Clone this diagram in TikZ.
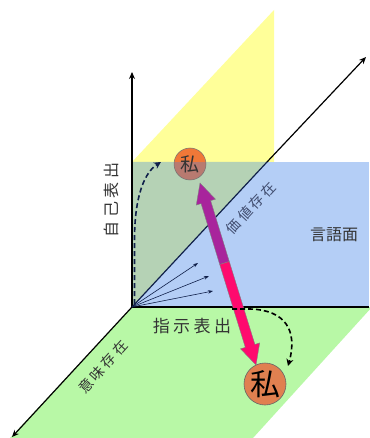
\documentclass[tikz,border=0pt]{standalone}
\usepackage{fontspec}
\newfontfamily\jp{Noto Sans CJK JP}
\usetikzlibrary{arrows.meta}
\definecolor{yel}{HTML}{FFFF99}
\definecolor{blu}{HTML}{B4CEF6}
\definecolor{ovl}{HTML}{B5D2B5}
\definecolor{grn}{HTML}{B8F8A6}
\definecolor{navy}{HTML}{10204A}
\definecolor{mag}{HTML}{A8249C}
\definecolor{pnk}{HTML}{FF0A6E}
\definecolor{org}{HTML}{F07838}
\definecolor{mauve}{HTML}{B87A70}
\definecolor{org2}{HTML}{E08050}
\definecolor{txt}{HTML}{333333}
\tikzset{
  axis/.style={line width=1.2pt, -{Stealth[length=7pt,width=6pt]}},
  fan/.style={navy, line width=0.6pt, -{Stealth[length=5pt,width=3.5pt]}},
  lbl/.style={font=\jp\fontsize{16}{16}\selectfont, text=txt, inner sep=0pt},
  rlbl/.style={font=\jp\fontsize{14}{14}\selectfont, text=txt, inner sep=0pt},
  curv/.style={dashed, dash pattern=on 5pt off 3pt, line width=1.6pt, -{Stealth[length=7pt,width=7pt]}},
}
\newcommand{\gp}{\hspace{3.5pt}}
\newcommand{\gq}{\hspace{3pt}}
\begin{document}
\begin{tikzpicture}[x=1pt,y=-1pt]
\useasboundingbox (0,0) rectangle (369,438);
% green plane
\fill[grn] (132,307) -- (372,307) -- (253,438) -- (10,438) -- cycle;
% blue plane
\fill[blu] (132,162) rectangle (369,307);
% yellow plane
\fill[yel] (132,162) -- (274,10) -- (274,162) -- cycle;
% overlap
\fill[ovl] (132,162) -- (267,162) -- (132,307) -- cycle;
% coordinates
\coordinate (O) at (132,307);
\coordinate (Vtop) at (132,72);
\coordinate (Dmid) at (267,162);
\coordinate (Dtop) at (366,57);
\coordinate (Lbot) at (12,437);
\coordinate (Rb) at (369,307);
% blue bottom edge
\draw[line width=1.2pt] (O) -- (Rb);
% axes
\draw[axis] (O) -- (Vtop);
\draw[axis] (O) -- (Lbot);
\draw[line width=1.2pt, navy] (O) -- (Dmid);
\draw[axis] (Dmid) -- (Dtop);
% fan arrows
\coordinate (f1) at (198,263);
\coordinate (f2) at (209,276);
\coordinate (f3) at (213,291);
\draw[fan] (O) -- (f1);
\draw[fan] (O) -- (f2);
\draw[fan] (O) -- (f3);
% small circle
\begin{scope}
\clip (190,164) circle (16);
\fill[org] (170,140) rectangle (210,162);
\fill[mauve] (170,162) rectangle (210,185);
\end{scope}
\node[circle, draw=black!55, line width=0.5pt, minimum size=32pt, inner sep=0pt,
      font=\jp\fontsize{19}{19}\selectfont, text=black!80] (s) at (190,164) {私};
% big circle
\node[circle, draw=black!60, line width=0.6pt, fill=org2, minimum size=42pt, inner sep=0pt,
      font=\jp\fontsize{30}{30}\selectfont] (b) at (265,384) {私};
% big arrows
\coordinate (mid) at (224.5,263);
\fill[mag, draw=black!50, line width=0.4pt]
  (229.28,261.54) -- (210.64,200.66) -- (215.42,199.19) -- (200,183) -- (196.30,205.05) -- (201.08,203.58) -- (219.72,264.46) -- cycle;
\fill[pnk, draw=black!50, line width=0.4pt]
  (229.28,261.52) -- (254.88,344.41) -- (259.66,342.94) -- (256,365) -- (240.55,348.84) -- (245.32,347.37) -- (219.72,264.48) -- cycle;
% dashed curved arrows
\coordinate (c1s) at (134.5,304);
\coordinate (c1e) at (161,162);
\draw[curv, navy] (c1s) -- (134.5,240) .. controls (134.5,195) and (145,172) .. (c1e);
\coordinate (c2s) at (232,309);
\coordinate (c2e) at (288,366);
\draw[curv, black] (c2s) -- (250,309) .. controls (285,310) and (298,330) .. (c2e);
% labels
\node[lbl, rotate=90] (l1) at (111,200) {自\gp 己\gp 表\gp 出};
\node[rlbl, rotate=47, text=navy!80] (l2) at (251,208) {価\gq 値\gq 存\gq 在};
\node[lbl] (l3) at (334,235) {言語面};
\node[lbl, font=\jp\fontsize{17}{17}\selectfont] (l4) at (192,326) {指\gp 示\gp 表\gp 出};
\node[rlbl, rotate=48] (l5) at (103,367) {意\gq 味\gq 存\gq 在};
\end{tikzpicture}
\end{document}
